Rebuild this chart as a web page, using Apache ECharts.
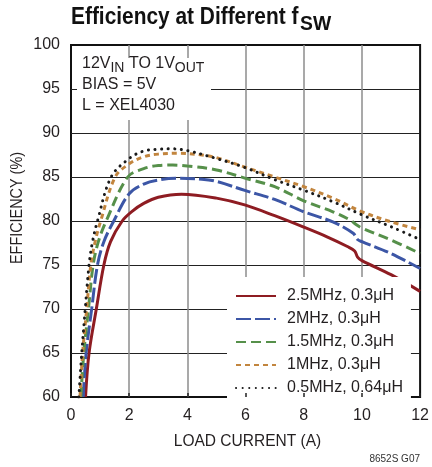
<!DOCTYPE html>
<html><head><meta charset="utf-8">
<script src="https://cdn.jsdelivr.net/npm/echarts@6/dist/echarts.min.js"></script>
<style>html,body{margin:0;padding:0;background:#fff}#c{width:432px;height:467px}</style>
</head><body><div id="c"></div>
<script>
// ---- data (load current A, efficiency %) ----
const seriesNames = ['2.5MHz, 0.3μH', '2MHz, 0.3μH', '1.5MHz, 0.3μH', '1MHz, 0.3μH', '0.5MHz, 0.64μH'];
const eff2_5MHz = [[0.5,60],[0.62,65],[0.87,70],[1.13,75],[1.36,77.65],[1.76,80],[2.1,81.1],[2.5,82.0],[3,82.7],[3.8,83.05],[5,82.6],[6,81.8],[7,80.6],[8,79.3],[8.8,78.2],[9.5,77.1],[9.75,76.6],[9.85,75.9],[10,75.5],[11,73.9],[12,72.0]];
const eff2MHz = [[0.42,60],[0.52,65],[0.71,70],[0.91,75],[1.13,77.65],[1.47,80],[2,83.1],[2.5,84.2],[3,84.66],[3.7,84.85],[4.5,84.75],[5,84.5],[6,83.45],[7,82.45],[8,81.05],[9,79.9],[9.7,78.6],[9.85,77.9],[10,77.65],[11,76.3],[12,74.6]];
const eff1_5MHz = [[0.34,60],[0.44,65],[0.6,70],[0.76,75],[0.94,77.65],[1.21,80],[1.95,85],[2.5,85.95],[3,86.3],[3.5,86.36],[4,86.25],[5,85.8],[6,84.85],[7,83.9],[8,82.3],[9,81.05],[9.6,80.1],[9.8,79.6],[10,79.2],[11,77.85],[12,76.3]];
const eff1MHz = [[0.31,60],[0.4,65],[0.54,70],[0.68,75],[0.83,77.65],[1.02,80],[1.52,85],[2,86.5],[2.5,87.3],[3,87.6],[3.7,87.7],[4.5,87.5],[5,87.2],[6,86.1],[7,85.0],[8,83.9],[9,82.6],[10,81.05],[11,79.9],[12,79.0]];
const eff0_5MHz = [[0.27,60],[0.37,65],[0.49,70],[0.62,75],[0.74,77.65],[0.91,80],[1.38,85],[2,87.1],[2.5,87.95],[3,88.15],[3.5,88.2],[4,88.0],[5,87.1],[6,86.05],[7,84.7],[8,83.5],[9,82.2],[10,80.7],[11,79.35],[12,77.9]];
const xTicks = [0, 2, 4, 6, 8, 10, 12];
const yTicks = [60, 65, 70, 75, 80, 85, 90, 95, 100];

const FONT = "'Liberation Sans', Arial, sans-serif";
const TXT = '#231f20';

function mk(name, data, color, type, width, cap) {
  return {
    name, type: 'line', data, symbol: 'none', showSymbol: false,
    smooth: 0.35, z: 3, clip: true,
    lineStyle: { color, width, type, cap: cap || 'butt' },
    itemStyle: { color }
  };
}

const chart = echarts.init(document.getElementById('c'), null, { renderer: 'canvas' });
chart.setOption({
  animation: false,
  backgroundColor: '#fff',
  grid: { left: 71, right: 8, top: 45, bottom: 70, show: true, borderColor: '#111', borderWidth: 2, backgroundColor: 'transparent' },
  xAxis: [{
    type: 'value', min: xTicks[0], max: xTicks[xTicks.length - 1], interval: xTicks[1] - xTicks[0],
    axisLine: { show: false }, axisTick: { show: false },
    axisLabel: { margin: 11, fontSize: 16, fontFamily: FONT, color: TXT },
    splitLine: { show: true, showMinLine: false, showMaxLine: false, lineStyle: { color: '#8c8c8c', width: 1.5 } }
  }, {
    type: 'value', position: 'bottom', min: xTicks[0], max: xTicks[xTicks.length - 1], interval: xTicks[1] - xTicks[0],
    axisLine: { show: false }, axisLabel: { show: false }, splitLine: { show: false },
    axisTick: { show: true, inside: true, length: 4, lineStyle: { color: '#222', width: 1.5 } },
    z: 10
  }],
  yAxis: {
    type: 'value', min: yTicks[0], max: yTicks[yTicks.length - 1], interval: yTicks[1] - yTicks[0],
    axisLine: { show: false }, axisTick: { show: false },
    axisLabel: { margin: 11, fontSize: 16, fontFamily: FONT, color: TXT },
    splitLine: { show: true, showMinLine: false, showMaxLine: false, lineStyle: { color: '#222', width: 1.2 } }
  },
  legend: {
    orient: 'vertical', left: 227, top: 277, padding: [11, 8, 10, 8],
    backgroundColor: '#fff', itemWidth: 40, itemHeight: 14, itemGap: 7, z: 5,
    itemStyle: { opacity: 0 },
    textStyle: { fontFamily: FONT, fontSize: 16, color: TXT, padding: [0, 0, 0, 6] },
    data: seriesNames
  },
  series: [
    mk(seriesNames[0], eff2_5MHz, '#8e1c22', 'solid', 3),
    mk(seriesNames[1], eff2MHz, '#3c56a6', [15, 4], 3),
    mk(seriesNames[2], eff1_5MHz, '#56904a', [10, 5], 3),
    mk(seriesNames[3], eff1MHz, '#c2853e', [5, 4], 3),
    mk(seriesNames[4], eff0_5MHz, '#1a1a1a', [0.1, 6.5], 3, 'round')
  ],
  graphic: [
    { type: 'rect', z: 5, shape: { x: 77, y: 58, width: 134, height: 62 }, style: { fill: '#fff' } },
    { type: 'text', z: 6, x: 82, y: 53.5, style: {
        text: '12V{sub|IN} TO 1V{sub|OUT}\nBIAS = 5V\nL = XEL4030',
        font: '16px ' + FONT, fill: TXT, lineHeight: 21, verticalAlign: 'top',
        rich: { sub: { fontSize: 14, fontFamily: FONT, fill: TXT, padding: [8, 0, 0, 0] } }
    } },
    { type: 'text', z: 6, x: 71, y: 17.5, scaleX: 0.87, style: {
        text: 'Efficiency at Different f', font: 'bold 24px ' + FONT, fill: '#111', verticalAlign: 'middle'
    } },
    { type: 'text', z: 6, x: 300, y: 24.5, scaleX: 0.92, style: {
        text: 'SW', font: 'bold 21px ' + FONT, fill: '#111', verticalAlign: 'middle'
    } },
    { type: 'text', z: 6, x: 18, y: 208, rotation: Math.PI / 2, scaleX: 0.9, style: {
        text: 'EFFICIENCY (%)', font: '16px ' + FONT, fill: TXT, align: 'center', verticalAlign: 'middle'
    } },
    { type: 'text', z: 6, x: 247.5, y: 442, scaleX: 0.97, style: {
        text: 'LOAD CURRENT (A)', font: '16px ' + FONT, fill: TXT, align: 'center', verticalAlign: 'middle'
    } },
    { type: 'text', z: 6, x: 420, y: 459, style: {
        text: '8652S G07', font: '10px ' + FONT, fill: '#333', align: 'right', verticalAlign: 'middle'
    } }
  ]
});
</script>
</body></html>
